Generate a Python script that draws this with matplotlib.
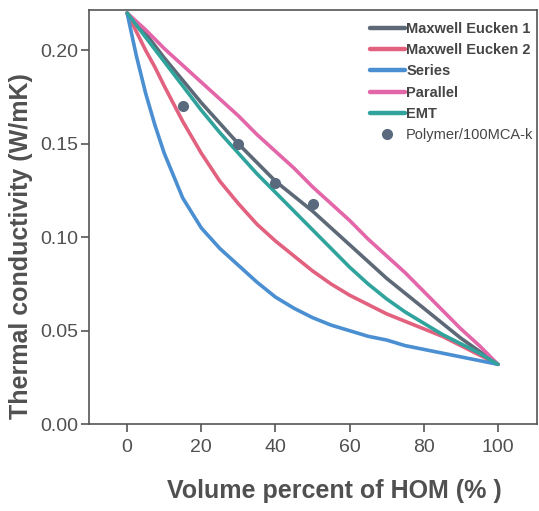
import matplotlib.pyplot as plt

# Volume percent of HOM (%)
vol = [0, 2.5, 5, 7.5, 10, 15, 20, 25, 30, 35, 40, 45, 50,
       55, 60, 65, 70, 75, 80, 85, 90, 95, 100]

# Model curves, thermal conductivity (W/mK)
maxwell1 = [0.220, 0.2145, 0.209, 0.2025, 0.196, 0.184, 0.172, 0.161, 0.150, 0.140, 0.130, 0.122, 0.114,
            0.105, 0.096, 0.087, 0.078, 0.070, 0.062, 0.054, 0.046, 0.039, 0.032]
maxwell2 = [0.220, 0.210, 0.200, 0.191, 0.181, 0.162, 0.145, 0.130, 0.118, 0.107, 0.098, 0.090, 0.082,
            0.075, 0.069, 0.064, 0.059, 0.055, 0.051, 0.047, 0.042, 0.037, 0.032]
series = [0.220, 0.197, 0.177, 0.160, 0.145, 0.121, 0.105, 0.094, 0.085, 0.076, 0.068, 0.062, 0.057,
          0.053, 0.050, 0.047, 0.045, 0.042, 0.040, 0.038, 0.036, 0.034, 0.032]
parallel = [0.220, 0.2155, 0.211, 0.206, 0.201, 0.192, 0.183, 0.174, 0.165, 0.155, 0.146, 0.137, 0.127,
            0.118, 0.109, 0.099, 0.090, 0.081, 0.071, 0.061, 0.051, 0.042, 0.032]
emt = [0.220, 0.2135, 0.207, 0.2005, 0.194, 0.181, 0.168, 0.156, 0.145, 0.134, 0.124, 0.114, 0.104,
       0.094, 0.084, 0.075, 0.067, 0.060, 0.054, 0.048, 0.043, 0.038, 0.032]

# Measured points
meas_x = [15, 30, 40, 50]
meas_k = [0.170, 0.150, 0.129, 0.118]

names = ['Maxwell Eucken 1', 'Maxwell Eucken 2', 'Series', 'Parallel', 'EMT']
colors = ['#5e6978', '#e2617f', '#4a8fd2', '#e266a8', '#2fa39c']
txt = '#505050'
font = 'Liberation Sans'

fig = plt.figure(figsize=(5.39, 5.11), dpi=100)
ax = fig.add_axes([0.165, 0.170, 0.831, 0.810])

for ys, name, c in zip([maxwell1, maxwell2, series, parallel, emt], names, colors):
    ax.plot(vol, ys, color=c, lw=2.6, label=name, solid_capstyle='round',
            solid_joinstyle='round')
ax.plot(meas_x, meas_k, 'o', color='#5a6a7e', ms=7, label='Polymer/100MCA-k', zorder=5)

ax.set_xlim(-10.3, 110.5)
ax.set_ylim(0, 0.2215)
ax.set_xticks([0, 20, 40, 60, 80, 100])
ax.set_yticks([0.00, 0.05, 0.10, 0.15, 0.20])
ax.set_yticklabels(['0.00', '0.05', '0.10', '0.15', '0.20'])

for s in ax.spines.values():
    s.set_color('#555555')
    s.set_linewidth(1.2)
ax.tick_params(direction='out', length=6, width=1.2, color='#555555',
               labelcolor=txt, labelsize=14)
ax.tick_params(axis='x', pad=5)
ax.tick_params(axis='y', pad=2)
for lab in ax.get_xticklabels() + ax.get_yticklabels():
    lab.set_family(font)

ax.set_xlabel('Volume percent of HOM (% )', fontsize=18, fontweight='bold',
              color=txt, family=font, va='top')
ax.xaxis.set_label_coords(0.549, -0.133)
ax.set_ylabel('Thermal conductivity (W/mK)', fontsize=18, fontweight='bold',
              color=txt, family=font)
ax.yaxis.set_label_coords(-0.125, 0.43)

leg = ax.legend(loc='upper left', bbox_to_anchor=(0.627, 0.972), frameon=False,
                handlelength=2.4, handletextpad=0.1, labelspacing=0.5,
                borderpad=0, borderaxespad=0,
                prop={'family': font, 'weight': 'bold', 'size': 10.5})
for t in leg.get_texts():
    t.set_color('#454545')
leg.get_texts()[-1].set_fontweight('normal')
for h in leg.get_lines():
    h.set_linewidth(3.2)

fig.savefig('out.png', dpi=100)
